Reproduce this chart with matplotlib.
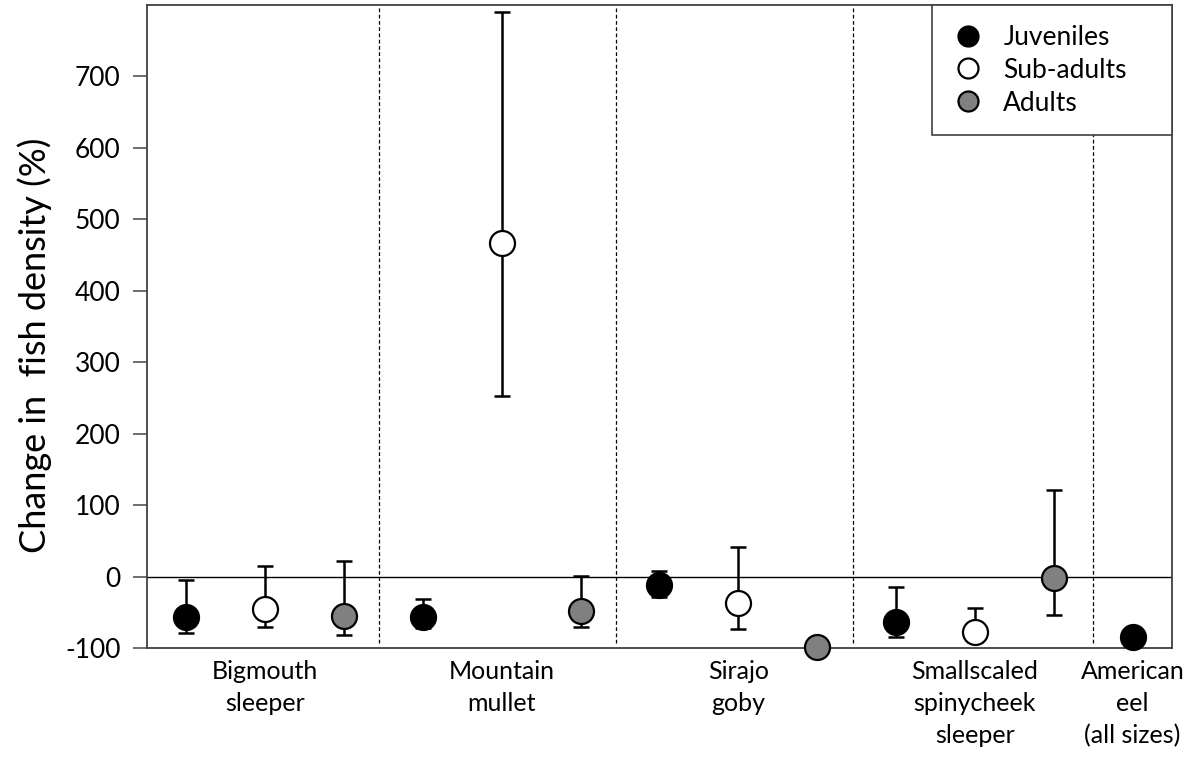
"""Change in fish density by species and life stage."""

import matplotlib

matplotlib.use("Agg")
import matplotlib.pyplot as plt
import numpy as np

plt.rcParams["font.family"] = ["Lato", "DejaVu Sans"]
plt.rcParams["axes.unicode_minus"] = False

SPECIES = [
    "Bigmouth\nsleeper",
    "Mountain\nmullet",
    "Sirajo\ngoby",
    "Smallscaled\nspinycheek\nsleeper",
    "American\neel\n(all sizes)",
]

STAGES = ["Juveniles", "Sub-adults", "Adults"]
STAGE_COLORS = {"Juveniles": "black", "Sub-adults": "white", "Adults": "#808080"}

# slot index of each point along the x axis (3 slots per species, eel has one)
JUV_X = [0, 3, 6, 9, 12]
SUB_X = [1, 4, 7, 10]
ADU_X = [2, 5, 8, 11]

JUV_MEAN = [-56, -56, -12, -63, -85]
JUV_LOW = [-79, -72, -29, -85, -85]
JUV_HIGH = [-5, -31, 8, -15, -85]

SUB_MEAN = [-45, 467, -37, -77]
SUB_LOW = [-71, 252, -73, -92]
SUB_HIGH = [15, 790, 41, -44]

ADU_MEAN = [-55, -48, -99, -2]
ADU_LOW = [-82, -70, -99, -54]
ADU_HIGH = [22, 1, -99, 121]

LABEL_X = [1, 4, 7, 10, 12]
DIVIDERS = [2.44, 5.45, 8.45, 11.5]


def main():
    fig = plt.figure(figsize=(11.96, 7.61), dpi=100)
    ax = fig.add_axes([0.1229, 0.1485, 0.857, 0.845])

    ax.axhline(0, color="black", linewidth=1.0, zorder=1)
    for xd in DIVIDERS:
        ax.vlines(xd, -93, 797, colors="black", linestyles=(0, (3, 2)), linewidth=0.9, zorder=1)

    series = [
        ("Juveniles", JUV_X, JUV_MEAN, JUV_LOW, JUV_HIGH),
        ("Sub-adults", SUB_X, SUB_MEAN, SUB_LOW, SUB_HIGH),
        ("Adults", ADU_X, ADU_MEAN, ADU_LOW, ADU_HIGH),
    ]
    for label, xs, mean, low, high in series:
        mean = np.array(mean, dtype=float)
        yerr = [mean - np.array(low), np.array(high) - mean]
        ax.errorbar(xs, mean, yerr=yerr, fmt="none", ecolor="black", elinewidth=1.8,
                    capsize=5.6, capthick=1.8, zorder=2)
        ax.plot(xs, mean, "o", markersize=18, markerfacecolor=STAGE_COLORS[label],
                markeredgecolor="black", markeredgewidth=1.6, linestyle="none",
                label=label, zorder=3, clip_on=False)

    ax.set_xlim(-0.5, 12.5)
    ax.set_ylim(-100, 800)
    ax.set_yticks(np.arange(-100, 701, 100))
    ax.tick_params(axis="y", labelsize=19, length=10, width=1.2, color="#555555", pad=9)
    ax.set_xticks(LABEL_X)
    ax.set_xticklabels(SPECIES, fontsize=18, linespacing=1.45)
    ax.tick_params(axis="x", length=0, pad=9)
    ax.set_ylabel("Change in  fish density (%)", fontsize=26)
    ax.yaxis.set_label_coords(-0.093, 0.47)

    for spine in ax.spines.values():
        spine.set_color("#404040")
        spine.set_linewidth(1.3)

    leg = ax.legend(loc="upper right", bbox_to_anchor=(0.766, 0, 0.234, 1), mode="expand",
                    fontsize=19, frameon=True, fancybox=False, borderaxespad=0,
                    handletextpad=0.75, labelspacing=0.3, borderpad=0.75,
                    markerscale=0.8, handlelength=1.2)
    leg.get_frame().set_edgecolor("#404040")
    leg.get_frame().set_linewidth(1.2)
    leg.get_frame().set_alpha(1)
    leg.set_zorder(5)

    fig.savefig("out.png", dpi=100)
    plt.close(fig)


if __name__ == "__main__":
    main()
